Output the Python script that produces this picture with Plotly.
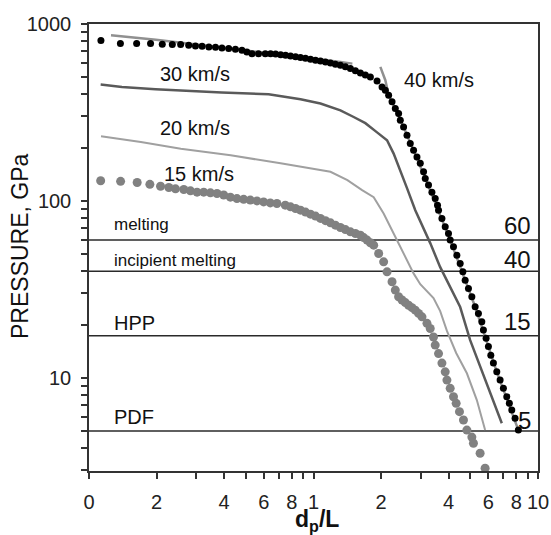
import plotly.graph_objects as go

# ---------------- data ----------------
# 40 km/s: measured points (black dots)
v40_x = [0.113,0.138,0.163,0.188,0.212,0.235,0.256,0.278,0.298,0.319,0.342,0.366,0.391,0.419,0.449,
         0.480,0.505,0.532,0.569,0.610,0.644,0.678,0.714,0.751,0.790,0.832,0.875,0.921,0.970,1.021,
         1.074,1.131,1.19,1.252,1.318,1.387,1.46,1.537,1.618,1.702,1.792,1.919,2.02,2.089,2.161,
         2.238,2.314,2.394,2.436,2.519,2.609,2.698,2.791,2.89,2.989,3.092,3.146,3.253,3.369,3.485,
         3.568,3.605,3.733,3.861,3.993,4.063,4.203,4.351,4.501,4.627,4.738,4.9,5.074,5.248,5.428,
         5.62,5.713,5.873,6.013,6.163,6.329,6.553,6.779,7.012,7.26,7.455,7.641,7.904,8.175]
v40_y = [808,775,775,775,768,765,765,758,751,748,741,739,732,726,720,
         710,695,680,680,680,680,676,671,666,659,653,646,640,632,624,
         618,610,602,593,584,573,560,545,529,515,502,476,441,422,396,
         363,333,312,286,262,235,211,193,177,163,146,134,123,112,103,
         94.6,88.6,79.6,71.3,65.4,60.0,55.0,49.3,44.3,39.7,35.6,32.0,28.7,25.2,23.1,
         20.7,18.6,16.7,15.0,13.4,12.1,10.8,9.70,8.71,7.81,7.17,6.57,5.90,5.06]

# 40 km/s: model curve (grey line, two pieces)
l40_x = [0.1253,0.1985,0.3147,0.5248,0.8754,1.318,1.49,None,1.985,2.089,2.161,2.519,3.146,4.063,5.248,6.553,8.175]
l40_y = [863,814,760,700,650,610,597,None,572,481,396,262,134,60,25.2,10.8,5.06]

# 30 km/s model curve
l30_x = [0.1127,0.1402,0.1979,0.2783,0.39,0.631,0.8754,1.074,1.318,1.51,1.702,1.919,2.126,2.275,
         2.436,2.609,2.84,3.051,3.311,3.667,4.063,4.501,4.986,5.523,6.118,6.898]
l30_y = [455,441,428,418,410,401,375,355,325,298,275,244,220,185,
         149,118,88.6,72.9,57.7,42.2,32.5,25.1,16.3,11.5,8.16,5.53]

# 20 km/s model curve
l20_x = [0.1131,0.1702,0.2564,0.4277,0.7135,1.19,1.416,1.646,1.854,2.053,2.275,2.519,2.791,2.989,
         3.424,3.667,3.929,4.32,4.822,5.34,5.813]
l20_y = [232,215,197,181,163,146,131,115,105,84.9,65.4,50.4,38.9,33.8,
         28.2,23.8,18.4,13.8,10.6,7.48,5.06]

# 15 km/s measured points (grey dots)
d15_x = [0.1127,0.1383,0.1639,0.1867,0.2083,0.2268,0.2428,0.2644,0.2831,0.3029,0.3244,0.3475,0.3717,
         0.3981,0.4264,0.456,0.4886,0.5231,0.5598,0.5995,0.642,0.6871,0.7486,0.79,0.8318,0.8754,
         0.9213,0.9698,1.021,1.074,1.131,1.19,1.252,1.318,1.387,1.46,1.537,1.618,1.673,1.732,1.792,
         1.854,1.951,2.053,2.126,2.238,2.314,2.394,2.479,2.564,2.652,2.746,2.84,2.938,3.042,3.202,
         3.311,3.424,3.485,3.605,3.733,3.861,3.929,4.063,4.203,4.32,4.469,4.656,4.822,5.074,5.157,
         5.523,5.813]
d15_y = [130,129,127,124,121,119,117,116,114,112,112,111,110,
         108,105,103,102,101,100,98.7,97.4,96.7,94.6,92.5,90.6,88.6,
         86.4,84.1,82.0,79.6,77.3,75.1,72.9,70.7,68.8,66.8,65.4,64.0,62.0,60.0,58.0,
         56.2,50.4,45.2,39.7,34.9,31.3,28.7,27.5,26.6,25.7,24.9,24.1,23.1,22.1,20.3,
         19.0,17.0,15.3,13.7,12.1,10.8,9.70,8.71,7.81,7.17,6.43,5.77,5.06,4.62,4.26,
         3.74,3.08]

# horizontal threshold lines
thr_values = [60, 40, 17.3, 5]
thr_right_labels = ["60", "40", "15", "5"]
thr_left_labels = ["melting", "incipient melting", "HPP", "PDF"]

speed_labels = ["40 km/s", "30 km/s", "20 km/s", "15 km/s"]

x_tickvals = [0.1, 0.2, 0.4, 0.6, 0.8, 1, 2, 4, 6, 8, 10]
x_ticktext = ["0", "2", "4", "6", "8", "1", "2", "4", "6", "8", "10"]
x_minorvals = [0.3, 0.5, 0.7, 0.9, 3, 5, 7, 9]
y_tickvals = [10, 100, 1000]
y_ticktext = ["10", "100", "1000"]
y_minorvals = [3,4,5,6,7,8,9,20,30,40,50,60,70,80,90,200,300,400,500,600,700,800,900]

# ---------------- figure ----------------
FONT = "Arial, 'Liberation Sans', sans-serif"
fig = go.Figure()

for v in thr_values:
    fig.add_trace(go.Scatter(x=[0.1, 10], y=[v, v], mode="lines",
                             line=dict(color="#2a2a2a", width=1.5), showlegend=False, hoverinfo="skip"))

fig.add_trace(go.Scatter(x=l20_x, y=l20_y, mode="lines", line=dict(color="#a0a0a0", width=2),
                         showlegend=False))
fig.add_trace(go.Scatter(x=l30_x, y=l30_y, mode="lines", line=dict(color="#5a5a5a", width=2.5),
                         showlegend=False))
fig.add_trace(go.Scatter(x=l40_x, y=l40_y, mode="lines", line=dict(color="#909090", width=2.5),
                         connectgaps=False, showlegend=False))
fig.add_trace(go.Scatter(x=d15_x, y=d15_y, mode="markers",
                         marker=dict(color="#818181", size=9, line=dict(width=0)), showlegend=False))
fig.add_trace(go.Scatter(x=v40_x, y=v40_y, mode="markers",
                         marker=dict(color="#000000", size=7, line=dict(width=0)), showlegend=False))

W, H = 551, 535
# plot area in page pixels
L, R, T, B = 89, 538, 24, 471
def px(xp): return (xp - L) / (R - L)
def py(yp): return (B - yp) / (B - T)

ann = []
# threshold labels on the right
for txt, yc in zip(thr_right_labels, [225, 259, 321, 420]):
    ann.append(dict(x=px(533), y=py(yc), text=txt, xanchor="right", yanchor="middle",
                    font=dict(size=24, color="#111")))
# threshold labels on the left
for txt, yc, fs in zip(thr_left_labels, [224, 260, 323, 417], [17, 17, 20, 20]):
    ann.append(dict(x=px(112), y=py(yc), text=txt, xanchor="left", yanchor="middle",
                    font=dict(size=fs, color="#111")))
# speed labels
for txt, xl, yc in zip(speed_labels, [402, 158, 158, 162], [80, 74, 128, 174]):
    ann.append(dict(x=px(xl), y=py(yc), text=txt, xanchor="left", yanchor="middle",
                    font=dict(size=20, color="#111")))
# axis titles
ann.append(dict(x=px(20), y=py(246), text="PRESSURE, GPa", textangle=-90,
                xanchor="center", yanchor="middle", font=dict(size=23, color="#111")))
ann.append(dict(x=px(317), y=py(504), text="<b>d<sub>p</sub>/L</b>",
                xanchor="center", yanchor="top", font=dict(size=23, color="#111")))
for a in ann:
    a.update(xref="paper", yref="paper", showarrow=False)

axis_common = dict(type="log", showgrid=False, zeroline=False, showline=True, linecolor="#333",
                   linewidth=1.5, mirror=True, ticks="outside", ticklen=6, tickwidth=1.5,
                   tickcolor="#333", tickfont=dict(size=20, color="#222", family=FONT),
                   tickmode="array", automargin=False)

fig.update_layout(
    width=W, height=H,
    margin=dict(l=L, r=W - R, t=T, b=H - B, autoexpand=False),
    paper_bgcolor="white", plot_bgcolor="white",
    font=dict(family=FONT),
    xaxis=dict(axis_common, range=[-1, 1], tickvals=x_tickvals, ticktext=x_ticktext,
               ticklabelstandoff=6,
               minor=dict(tickmode="array", tickvals=x_minorvals, ticks="outside", ticklen=6,
                          tickwidth=1.5, tickcolor="#333", showgrid=False)),
    yaxis=dict(axis_common, range=[0.4728, 3.0], tickvals=y_tickvals, ticktext=y_ticktext,
               ticklabelstandoff=6,
               minor=dict(tickmode="array", tickvals=y_minorvals, ticks="outside", ticklen=6,
                          tickwidth=1.5, tickcolor="#333", showgrid=False)),
    annotations=ann,
    showlegend=False,
)

fig.write_html("out.html", config={"displayModeBar": False},
               post_script="document.body.style.margin='0px';document.body.style.overflow='hidden';")
